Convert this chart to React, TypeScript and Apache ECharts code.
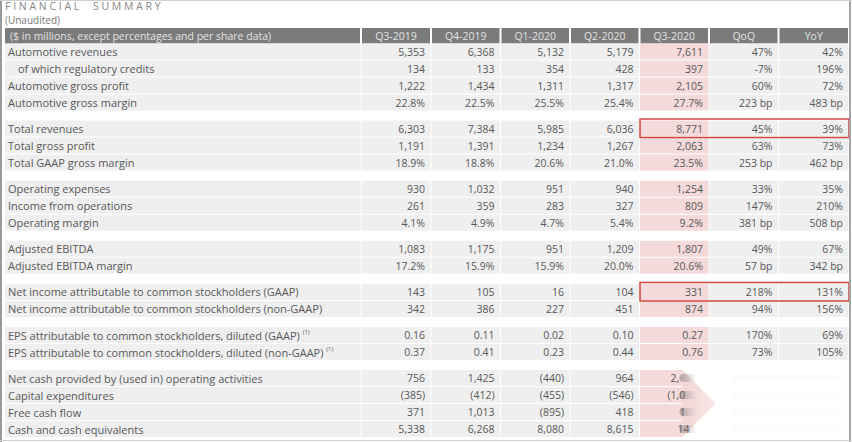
import React, { useEffect, useRef } from "react";
import * as echarts from "echarts";

const titleText = "FINANCIAL SUMMARY";
const subtitleText = "(Unaudited)";
const headerLabel = "($ in millions, except percentages and per share data)";
const periods = ["Q3-2019", "Q4-2019", "Q1-2020", "Q2-2020", "Q3-2020", "QoQ", "YoY"];

const rowLabels = [
  "Automotive revenues",
  "of which regulatory credits",
  "Automotive gross profit",
  "Automotive gross margin",
  "Total revenues",
  "Total gross profit",
  "Total GAAP gross margin",
  "Operating expenses",
  "Income from operations",
  "Operating margin",
  "Adjusted EBITDA",
  "Adjusted EBITDA margin",
  "Net income attributable to common stockholders (GAAP)",
  "Net income attributable to common stockholders (non-GAAP)",
  "EPS attributable to common stockholders, diluted (GAAP)",
  "EPS attributable to common stockholders, diluted (non-GAAP)",
  "Net cash provided by (used in) operating activities",
  "Capital expenditures",
  "Free cash flow",
  "Cash and cash equivalents",
];
const groupSizes = [4, 3, 3, 2, 2, 2, 4];
const indentedRows = [1];
const footnoteRows = [14, 15];
const footnoteMark = "(1)";
const highlightedRows = [4, 12];

const q3_2019 = ["5,353", "134", "1,222", "22.8%", "6,303", "1,191", "18.9%", "930", "261", "4.1%", "1,083", "17.2%", "143", "342", "0.16", "0.37", "756", "(385)", "371", "5,338"];
const q4_2019 = ["6,368", "133", "1,434", "22.5%", "7,384", "1,391", "18.8%", "1,032", "359", "4.9%", "1,175", "15.9%", "105", "386", "0.11", "0.41", "1,425", "(412)", "1,013", "6,268"];
const q1_2020 = ["5,132", "354", "1,311", "25.5%", "5,985", "1,234", "20.6%", "951", "283", "4.7%", "951", "15.9%", "16", "227", "0.02", "0.23", "(440)", "(455)", "(895)", "8,080"];
const q2_2020 = ["5,179", "428", "1,317", "25.4%", "6,036", "1,267", "21.0%", "940", "327", "5.4%", "1,209", "20.0%", "104", "451", "0.10", "0.44", "964", "(546)", "418", "8,615"];
const q3_2020 = ["7,611", "397", "2,105", "27.7%", "8,771", "2,063", "23.5%", "1,254", "809", "9.2%", "1,807", "20.6%", "331", "874", "0.27", "0.76", "", "", "", ""];
const q3_2020Cut = ["", "", "", "", "", "", "", "", "", "", "", "", "", "", "", "", "2,", "(1,0", "1", "14"];
const qoq = ["47%", "-7%", "60%", "223 bp", "45%", "63%", "253 bp", "33%", "147%", "381 bp", "49%", "57 bp", "218%", "94%", "170%", "73%", "", "", "", ""];
const yoy = ["42%", "196%", "72%", "483 bp", "39%", "73%", "462 bp", "35%", "210%", "508 bp", "67%", "342 bp", "131%", "156%", "69%", "105%", "", "", "", ""];
const valueColumns = [q3_2019, q4_2019, q1_2020, q2_2020, q3_2020, qoq, yoy];

// ---- layout (pixel units on hidden value axes) ----
const W = 852;
const H = 442;
const COL_EDGES = [5, 361, 431, 500.5, 570, 639.5, 709, 778.5, 849];
const HEADER_TOP = 28;
const HEADER_H = 15.5;
const BODY_TOP = 43.5;
const ROW_H = 17;
const GROUP_GAP = 9.1;
const FONT = "'Open Sans', 'DejaVu Sans', sans-serif";
const GRAY = "#efefef";
const PINK = "#f4dada";
const HEADER_FILL = "#7b7b7b";
const TEXT = "#585858";
const RED = "#d2483c";
const HILITE_COL = 5; // Q3-2020 column index in COL_EDGES terms

const groupOfRow: number[] = [];
groupSizes.forEach((n, g) => {
  for (let i = 0; i < n; i++) groupOfRow.push(g);
});
const lastGroup = groupSizes.length - 1;
const rowTop = (r: number) => BODY_TOP + r * ROW_H + groupOfRow[r] * GROUP_GAP;
const firstRowOfGroup = (g: number) => groupOfRow.indexOf(g);

const cellData: number[][] = [];
for (let c = 0; c < COL_EDGES.length - 1; c++) cellData.push([c, -1]);
rowLabels.forEach((_, r) => {
  for (let c = 0; c < COL_EDGES.length - 1; c++) cellData.push([c, r]);
});

function renderCell(params: any, api: any) {
  const c = api.value(0) as number;
  const r = api.value(1) as number;
  const x0 = COL_EDGES[c];
  const x1 = COL_EDGES[c + 1];
  const children: any[] = [];
  if (r < 0) {
    const p0 = api.coord([x0 + (c === 0 ? 0 : 1), HEADER_TOP]);
    const p1 = api.coord([x1 - 1, HEADER_TOP + HEADER_H]);
    children.push({
      type: "rect",
      shape: { x: p0[0], y: p0[1], width: p1[0] - p0[0], height: p1[1] - p0[1] },
      style: { fill: HEADER_FILL },
    });
    const label = c === 0 ? headerLabel : periods[c - 1];
    const tp = c === 0 ? api.coord([x0 + 5, HEADER_TOP + HEADER_H / 2]) : api.coord([(x0 + x1) / 2, HEADER_TOP + HEADER_H / 2]);
    children.push({
      type: "text",
      style: {
        text: label,
        x: tp[0],
        y: tp[1],
        fill: "#e2e2e2",
        fontSize: 10.5,
        fontFamily: FONT,
        align: c === 0 ? "left" : "center",
        verticalAlign: "middle",
        textAlign: c === 0 ? "left" : "center",
        textVerticalAlign: "middle",
      },
    });
    return { type: "group", children };
  }
  const y0 = rowTop(r);
  const inLast = groupOfRow[r] === lastGroup;
  let fill = c === HILITE_COL ? PINK : GRAY;
  if (inLast && c > HILITE_COL) fill = "#ffffff";
  const p0 = api.coord([x0 + (c === 0 ? 0 : 0.5), y0]);
  const p1 = api.coord([x1 - 0.5, y0 + ROW_H - 1]);
  children.push({
    type: "rect",
    shape: { x: p0[0], y: p0[1], width: p1[0] - p0[0], height: p1[1] - p0[1] },
    style: { fill },
  });
  const cy = y0 + (ROW_H - 1) / 2;
  if (c === 0) {
    const indent = indentedRows.indexOf(r) >= 0 ? 13 : 3;
    const tp = api.coord([x0 + indent, cy]);
    const hasNote = footnoteRows.indexOf(r) >= 0;
    children.push({
      type: "text",
      style: {
        text: hasNote ? rowLabels[r] + " {sup|" + footnoteMark + "}" : rowLabels[r],
        rich: { sup: { fontSize: 6, fontFamily: FONT, fill: TEXT, verticalAlign: "top", padding: [0, 0, 6, 0] } },
        x: tp[0],
        y: tp[1],
        fill: TEXT,
        fontSize: 11,
        fontFamily: FONT,
        align: "left",
        verticalAlign: "middle",
        textAlign: "left",
        textVerticalAlign: "middle",
      },
    });
  } else {
    const v = valueColumns[c - 1][r];
    if (v) {
      const tp = api.coord([x1 - 6, cy]);
      children.push({
        type: "text",
        style: {
          text: v,
          x: tp[0],
          y: tp[1],
          fill: TEXT,
          fontSize: 10.5,
          fontFamily: FONT,
          align: "right",
          verticalAlign: "middle",
          textAlign: "right",
          textVerticalAlign: "middle",
        },
      });
    }
  }
  return { type: "group", children };
}

// overlay on last group (chevron with faded values)
function renderOverlay(params: any, api: any) {
  const g = api.value(0) as number;
  const r0 = firstRowOfGroup(g);
  const n = groupSizes[g];
  const top = rowTop(r0);
  const bottom = rowTop(r0 + n - 1) + ROW_H - 1;
  const xs = COL_EDGES[HILITE_COL];
  const xCut = xs + 43;
  const xTip = xCut + 33;
  const children: any[] = [];
  const a = api.coord([xCut, top]);
  const b = api.coord([COL_EDGES[COL_EDGES.length - 1], bottom]);
  children.push({ type: "rect", shape: { x: a[0], y: a[1], width: b[0] - a[0], height: b[1] - a[1] }, style: { fill: "#ffffff" } });
  const t1 = api.coord([xCut, top]);
  const t2 = api.coord([xTip, (top + bottom) / 2]);
  const t3 = api.coord([xCut, bottom]);
  children.push({
    type: "polygon",
    shape: { points: [t1, t2, t3] },
    style: {
      fill: new echarts.graphic.LinearGradient(0, 0, 1, 0, [
        { offset: 0, color: "#f3d6d6" },
        { offset: 1, color: "#f8e6e6" },
      ]),
    },
  });
  for (let i = 0; i < n; i++) {
    const r = r0 + i;
    const cy = rowTop(r) + (ROW_H - 1) / 2;
    const txt = q3_2020Cut[r];
    const offset = txt === "2," ? 31 : txt === "(1,0" ? 28 : txt === "1" ? 40 : 38;
    const tp = api.coord([xs + offset, cy]);
    children.push({
      type: "text",
      style: {
        text: txt,
        x: tp[0],
        y: tp[1],
        fill: TEXT,
        fontSize: 10.5,
        fontFamily: FONT,
        align: "left",
        verticalAlign: "middle",
        textAlign: "left",
        textVerticalAlign: "middle",
      },
    });
    const s0 = api.coord([xs + 40, cy - 4]);
    const s1 = api.coord([xs + 58, cy + 4]);
    children.push({
      type: "rect",
      shape: { x: s0[0], y: s0[1], width: s1[0] - s0[0], height: s1[1] - s0[1], r: 4 },
      style: {
        fill: new echarts.graphic.LinearGradient(0, 0, 1, 0, [
          { offset: 0, color: "rgba(110,110,110,0.5)" },
          { offset: 1, color: "rgba(140,140,140,0)" },
        ]),
      },
    });
    // very faint ghost values on the right
    const f0 = api.coord([COL_EDGES[6] + 22, cy - 4]);
    const f1 = api.coord([COL_EDGES[8] - 8, cy + 4]);
    children.push({
      type: "rect",
      shape: { x: f0[0], y: f0[1], width: f1[0] - f0[0], height: f1[1] - f0[1], r: 4 },
      style: { fill: "rgba(210,210,210,0.06)" },
    });
  }
  return { type: "group", children };
}

function renderHighlight(params: any, api: any) {
  const r = api.value(0) as number;
  const y0 = rowTop(r) - 1.5;
  const p0 = api.coord([COL_EDGES[HILITE_COL] + 0.5, y0]);
  const p1 = api.coord([COL_EDGES[COL_EDGES.length - 1], y0 + ROW_H + 1.5]);
  return {
    type: "rect",
    shape: { x: p0[0], y: p0[1], width: p1[0] - p0[0], height: p1[1] - p0[1] },
    style: { fill: "none", stroke: RED, lineWidth: 1.5 },
  };
}

export default function App() {
  const ref = useRef<HTMLDivElement>(null);
  useEffect(() => {
    if (!ref.current) return;
    const chart = echarts.init(ref.current, null, { renderer: "svg" });
    chart.setOption({
      animation: false,
      backgroundColor: "#ffffff",
      grid: { left: 0, right: 0, top: 0, bottom: 0 },
      xAxis: { type: "value", min: 0, max: W, show: false },
      yAxis: { type: "value", min: 0, max: H, inverse: true, show: false },
      graphic: [
        { type: "rect", left: 0, top: 0, shape: { width: 2, height: H }, style: { fill: "#9a9a9a" }, z: 10 },
        { type: "rect", left: 849, top: 0, shape: { width: 2, height: H }, style: { fill: "#a5a5a5" }, z: 10 },
        { type: "line", shape: { x1: 0, y1: 0.5, x2: W, y2: 0.5 }, style: { stroke: "#d0d0d0", lineWidth: 1 }, z: 10 },
        { type: "line", shape: { x1: 0, y1: 440.5, x2: W, y2: 440.5 }, style: { stroke: "#d0d0d0", lineWidth: 1 }, z: 10 },
        {
          type: "text",
          x: 5,
          y: 5.5,
          style: {
            text: titleText.split("").join(" ").replace("L   S", "L     S"),
            fill: "#888888",
            fontSize: 10.5,
            lineHeight: 10,
            fontFamily: FONT,
            textVerticalAlign: "middle",
            verticalAlign: "middle",
          },
        },
        {
          type: "text",
          x: 5,
          y: 19.5,
          style: {
            text: subtitleText,
            fill: "#7a7a7a",
            fontSize: 10,
            lineHeight: 10,
            fontFamily: FONT,
            textVerticalAlign: "middle",
            verticalAlign: "middle",
          },
        },
      ],
      series: [
        {
          type: "custom",
          name: "cells",
          coordinateSystem: "cartesian2d",
          data: cellData,
          renderItem: renderCell,
          z: 1,
          silent: true,
        },
        {
          type: "custom",
          name: "overlay",
          coordinateSystem: "cartesian2d",
          data: [[lastGroup]],
          renderItem: renderOverlay,
          z: 2,
          silent: true,
        },
        {
          type: "custom",
          name: "highlight",
          coordinateSystem: "cartesian2d",
          data: highlightedRows.map((r) => [r]),
          renderItem: renderHighlight,
          z: 3,
          silent: true,
        },
      ],
    });
    return () => chart.dispose();
  }, []);
  return <div ref={ref} style={{ position: "fixed", left: 0, top: 0, width: W, height: H }} />;
}
